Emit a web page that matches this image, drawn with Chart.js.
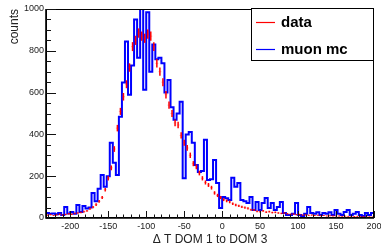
<!DOCTYPE html>
<html><head><meta charset="utf-8">
<script src="https://cdn.jsdelivr.net/npm/chart.js@4.4.0/dist/chart.umd.min.js"></script>
<style>html,body{margin:0;padding:0;background:#fff;}canvas{display:block;}</style>
</head><body>
<canvas id="c" width="381" height="247"></canvas>
<script>
// Histogram definition
const xMin = -232, xMax = 200, binWidth = 4;
const xTickValues = [-200, -150, -100, -50, 0, 50, 100, 150, 200];
const yTickValues = [0, 200, 400, 600, 800, 1000];
const seriesLabels = ['data', 'muon mc'];
const xTitle = 'Δ T DOM 1 to DOM 3';
const yTitle = 'counts';

// muon mc (blue histogram), one value per 4-unit bin from -232
const muonMC = [
  24, 20, 22, 18, 24, 14, 53, 22, 29, 20,
  62, 29, 58, 45, 50, 120, 80, 140, 206, 150,
  200, 360, 264, 206, 485, 648, 845, 590, 730, 950,
  767, 1000, 614, 984, 700, 830, 760, 767, 740, 600,
  660, 530, 470, 500, 556, 190, 400, 412, 360, 254,
  220, 225, 374, 182, 185, 278, 168, 48, 100, 95,
  86, 192, 150, 168, 86, 80, 72, 100, 38, 77,
  38, 72, 96, 48, 72, 38, 53, 77, 24, 14,
  14, 20, 72, 14, 10, 20, 53, 24, 20, 28,
  14, 24, 20, 28, 14, 38, 20, 14, 29, 38,
  14, 20, 29, 14, 10, 24, 14, 24
];

// data (red points with error bars), same binning
const dataCounts = [
  14, 16, 12, 15, 18, 14, 17, 20, 18, 22,
  24, 26, 30, 34, 44, 52, 64, 80, 98, 135,
  190, 240, 330, 430, 510, 580, 640, 720, 820, 850,
  885, 870, 860, 880, 870, 820, 740, 700, 650, 590,
  540, 500, 455, 445, 395, 360, 335, 300, 260, 245,
  215, 190, 170, 158, 145, 120, 108, 98, 88, 82,
  77, 68, 62, 58, 53, 50, 46, 40, 38, 32,
  30, 34, 28, 30, 26, 27, 24, 22, 24, 20,
  18, 19, 16, 17, 14, 15, 13, 14, 12, 13,
  11, 12, 10, 11, 10, 9, 10, 8, 9, 8,
  8, 7, 8, 6, 7, 6, 6, 5
];
const errScale = 0.75;

const FONT = 'Liberation Sans';

const rootStyle = {
  id: 'rootStyle',
  afterDatasetsDraw(chart) {
    const {ctx, chartArea: a, scales: {x, y}} = chart;
    // red error bars for data
    const ds = chart.data.datasets[0];
    ctx.save();
    ctx.beginPath();
    ctx.rect(a.left, a.top, a.right - a.left, a.bottom - a.top);
    ctx.clip();
    ds.data.forEach(p => {
      const px = x.getPixelForValue(p.x);
      const e = Math.sqrt(p.y) * errScale;
      const py = y.getPixelForValue(p.y);
      const y1 = y.getPixelForValue(p.y - e), y2 = y.getPixelForValue(p.y + e);
      const pl = x.getPixelForValue(p.x - binWidth / 2), pr = x.getPixelForValue(p.x + binWidth / 2);
      ctx.strokeStyle = 'rgba(255,0,0,0.3)';
      ctx.lineWidth = 1;
      ctx.beginPath(); ctx.moveTo(pl, py); ctx.lineTo(pr, py); ctx.stroke();
      ctx.strokeStyle = '#ff0000';
      ctx.lineWidth = 1.5;
      ctx.beginPath(); ctx.moveTo(px, y1); ctx.lineTo(px, y2); ctx.stroke();
    });
    ctx.restore();

    // frame
    ctx.save();
    ctx.strokeStyle = '#000';
    ctx.lineWidth = 1;
    ctx.strokeRect(a.left + 0.5, a.top + 0.5, a.right - a.left - 1, a.bottom - a.top - 1);
    ctx.lineWidth = 1.6;
    ctx.beginPath();
    ctx.moveTo(a.left, a.top); ctx.lineTo(a.left, a.bottom); ctx.lineTo(a.right, a.bottom);
    ctx.stroke();
    // ticks inside
    ctx.lineWidth = 1;
    ctx.strokeStyle = '#111';
    ctx.beginPath();
    for (let v = -230; v <= xMax; v += 10) {
      const px = Math.round(x.getPixelForValue(v)) + 0.5;
      const len = (v % 50 === 0) ? 7 : 3.5;
      ctx.moveTo(px, a.bottom); ctx.lineTo(px, a.bottom - len);
    }
    for (let v = 0; v <= 1000; v += 50) {
      const py = Math.round(y.getPixelForValue(v)) + 0.5;
      const len = (v % 200 === 0) ? 10 : 5;
      ctx.moveTo(a.left, py); ctx.lineTo(a.left + len, py);
    }
    ctx.stroke();
    ctx.restore();
  },
  afterDraw(chart) {
    const {ctx, chartArea: a} = chart;
    const w = 123, h = 53;
    const L = a.right - w, T = a.top - 1;
    ctx.save();
    ctx.fillStyle = '#fff';
    ctx.fillRect(L, T, w, h);
    ctx.strokeStyle = '#000';
    ctx.lineWidth = 1;
    ctx.strokeRect(L + 0.5, T + 0.5, w - 1, h - 1);
    const rows = [T + 14, T + 41];
    chart.data.datasets.forEach((ds, i) => {
      const yy = rows[i];
      ctx.strokeStyle = ds.borderColor;
      ctx.lineWidth = 1.2;
      ctx.beginPath(); ctx.moveTo(L + 5, yy + 0.5); ctx.lineTo(L + 24, yy + 0.5); ctx.stroke();
      ctx.fillStyle = '#000';
      ctx.font = 'bold 15px "' + FONT + '"';
      ctx.textBaseline = 'middle';
      ctx.textAlign = 'left';
      ctx.fillText(ds.label, L + 30, yy + 1);
    });
    ctx.restore();
  }
};

new Chart(document.getElementById('c'), {
  type: 'scatter',
  data: {
    datasets: [
      {
        label: seriesLabels[0],
        data: dataCounts.map((v, i) => ({x: xMin + binWidth * (i + 0.5), y: v})),
        showLine: false, pointRadius: 0,
        borderColor: '#ff0000', backgroundColor: '#ff0000'
      },
      {
        label: seriesLabels[1],
        type: 'line',
        data: muonMC.map((v, i) => ({x: xMin + binWidth * i, y: v})).concat([{x: xMax, y: muonMC[muonMC.length - 1]}]),
        stepped: true, showLine: true, fill: false, tension: 0,
        borderColor: '#0000ff', borderWidth: 2, pointRadius: 0,
        borderJoinStyle: 'miter', borderCapStyle: 'butt'
      }
    ]
  },
  options: {
    responsive: false, animation: false, devicePixelRatio: 1,
    layout: {padding: {top: 9, right: 7, left: 0, bottom: 0}},
    plugins: {legend: {display: false}, tooltip: {enabled: false}},
    scales: {
      x: {
        type: 'linear', min: xMin, max: xMax,
        grid: {display: false, drawTicks: false}, border: {display: false},
        afterBuildTicks: s => { s.ticks = xTickValues.map(v => ({value: v})); },
        ticks: {font: {family: FONT, size: 9}, color: '#222', padding: 3, maxRotation: 0, autoSkip: false,
                callback: v => String(v)},
        title: {display: true, text: xTitle, font: {family: FONT, size: 12}, color: '#222', padding: {top: 0, bottom: 0}},
        afterFit: s => { s.height = 29; s.paddingLeft = 0; s.paddingRight = 0; }
      },
      y: {
        type: 'linear', min: 0, max: 1000,
        grid: {display: false, drawTicks: false}, border: {display: false},
        afterBuildTicks: s => { s.ticks = yTickValues.map(v => ({value: v})); },
        ticks: {font: {family: FONT, size: 9}, color: '#222', padding: 2, callback: v => String(v)},
        title: {display: true, text: yTitle, align: 'end', font: {family: FONT, size: 12}, color: '#222', padding: {top: 7, bottom: 0}},
        afterFit: s => { s.width = 46; s.paddingTop = 0; s.paddingBottom = 0; }
      }
    }
  },
  plugins: [rootStyle]
});
</script>
</body></html>
